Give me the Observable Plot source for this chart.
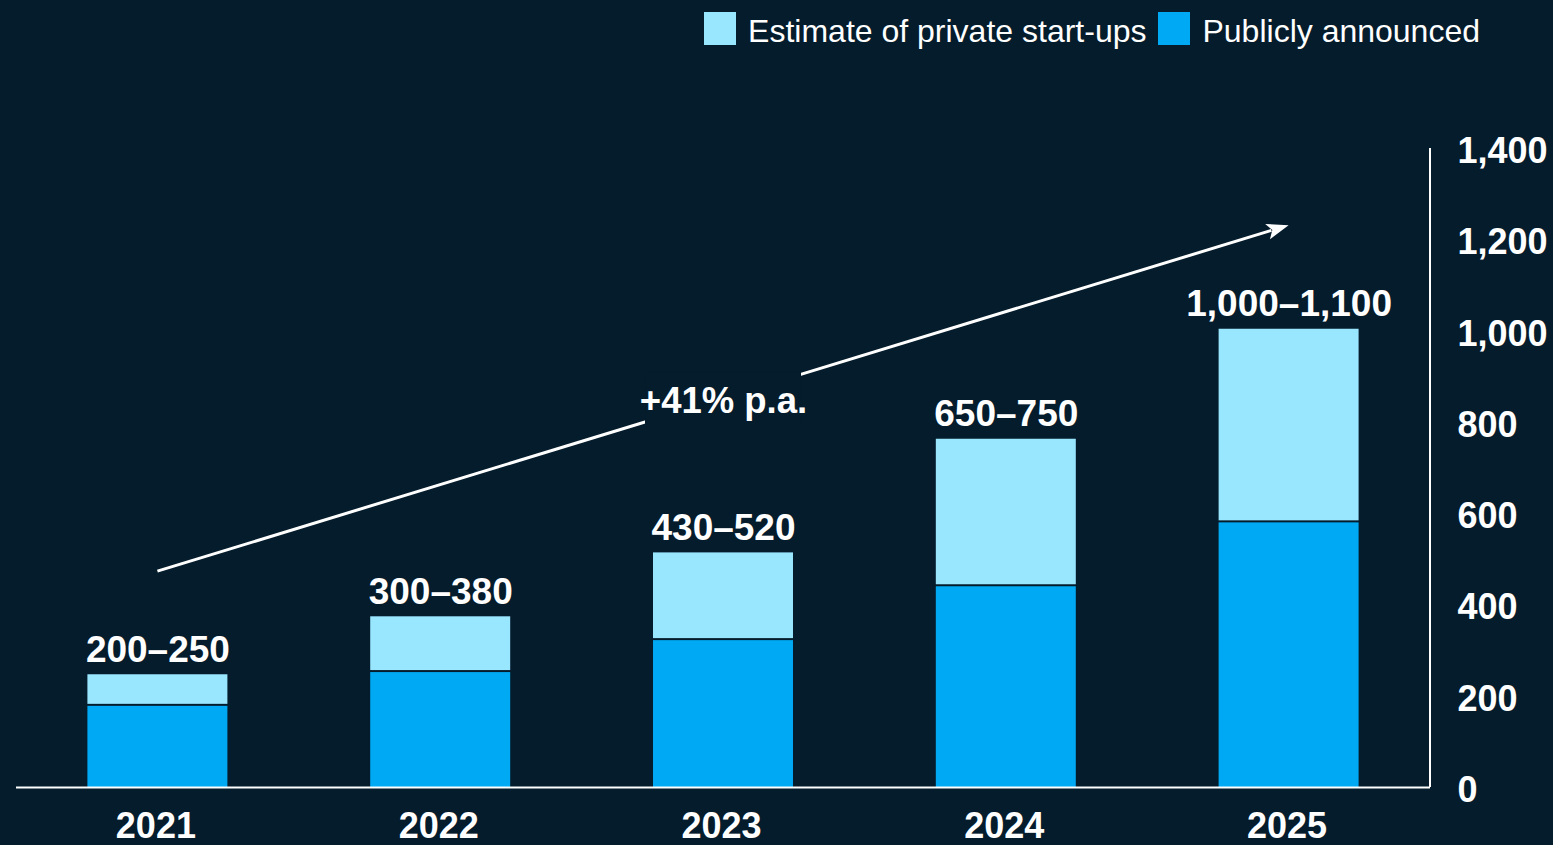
<!DOCTYPE html>
<html>
<head>
<meta charset="utf-8">
<script src="https://cdn.jsdelivr.net/npm/d3@7"></script>
<script src="https://cdn.jsdelivr.net/npm/@observablehq/plot@0.6"></script>
<style>
  html, body { margin: 0; padding: 0; background: #051c2c; overflow: hidden; }
  body { width: 1553px; height: 845px; font-family: "Liberation Sans", Arial, sans-serif; }
  #legend { height: 56px; display: flex; justify-content: flex-end; align-items: center; padding-right: 73px; box-sizing: border-box; color: #fff; font-size: 32px; }
  #legend .item { display: flex; align-items: center; margin-left: 12px; }
  #legend .sw { width: 32px; height: 33px; margin-right: 12px; }
  #legend .lbl { line-height: 32px; position: relative; top: 3px; }
  #chart svg { display: block; }
</style>
</head>
<body>
<div id="legend"></div>
<div id="chart"></div>
<script>
// ---- data ----
const years = ["2021", "2022", "2023", "2024", "2025"];
const publicAnnounced = [180, 254, 324, 442, 582];
const privateEstimate = [67, 120, 190, 321, 422];
const rangeLabels = ["200–250", "300–380", "430–520", "650–750", "1,000–1,100"];
const yTicks = [0, 200, 400, 600, 800, 1000, 1200, 1400];
const seriesNames = ["Estimate of private start-ups", "Publicly announced"];
const seriesColors = ["#99e6ff", "#00a9f4"];
const growthLabel = "+41% p.a.";
const growthYear = "2023";
const growthValue = 846;
const arrowFrom = {year: "2021", value: 473};
const arrowTo = {year: "2025", value: 1231};

const bg = "#051c2c";

// legend
const legend = document.getElementById("legend");
seriesNames.forEach((n, i) => {
  const it = document.createElement("div");
  it.className = "item";
  it.innerHTML = `<div class="sw" style="background:${seriesColors[i]}"></div><div class="lbl">${n}</div>`;
  legend.appendChild(it);
});

const pubRows = years.map((y, i) => ({year: y, y1: 0, y2: publicAnnounced[i], series: seriesNames[1]}));
const privRows = years.map((y, i) => ({year: y, y1: publicAnnounced[i], y2: publicAnnounced[i] + privateEstimate[i], series: seriesNames[0]}));
const labelRows = years.map((y, i) => ({year: y, total: publicAnnounced[i] + privateEstimate[i], label: rangeLabels[i]}));

const font = "'Liberation Sans', Arial, sans-serif";

const axisLineY = (index, scales, values, dims) => {
  const xr = dims.width - dims.marginRight;
  return d3.create("svg:line")
    .attr("x1", xr).attr("x2", xr)
    .attr("y1", scales.y(0)).attr("y2", scales.y(yTicks[yTicks.length - 1]))
    .attr("stroke", "white").attr("stroke-width", 2)
    .node();
};

// growth arrow drawn through the plot's own scales, with a filled head
const growthArrow = (index, scales) => {
  const half = scales.x.bandwidth ? scales.x.bandwidth() / 2 : 0;
  const x1 = scales.x(arrowFrom.year) + half, y1 = scales.y(arrowFrom.value);
  const x2 = scales.x(arrowTo.year) + half, y2 = scales.y(arrowTo.value);
  const ang = Math.atan2(y2 - y1, x2 - x1);
  const L = 22, W = 8;
  const bx = x2 - L * Math.cos(ang), by = y2 - L * Math.sin(ang);
  const px = -Math.sin(ang) * W, py = Math.cos(ang) * W;
  const g = d3.create("svg:g");
  g.append("line").attr("x1", x1).attr("y1", y1).attr("x2", bx + 4 * Math.cos(ang)).attr("y2", by + 4 * Math.sin(ang))
    .attr("stroke", "white").attr("stroke-width", 3);
  g.append("polygon").attr("points", `${x2},${y2} ${bx + px},${by + py} ${bx + 5 * Math.cos(ang)},${by + 5 * Math.sin(ang)} ${bx - px},${by - py}`)
    .attr("fill", "white");
  return g.node();
};

const chart = Plot.plot({
  width: 1553,
  height: 789,
  marginTop: 92,
  marginBottom: 58,
  marginLeft: 16,
  marginRight: 123,
  style: {background: "transparent", color: "white", fontFamily: font, overflow: "visible"},
  x: {domain: years, paddingInner: 0.505, paddingOuter: 0.2525, round: false, axis: null},
  y: {domain: [0, 1400], axis: null},
  color: {domain: seriesNames, range: seriesColors},
  marks: [
    Plot.barY(pubRows, {x: "year", y1: "y1", y2: "y2", fill: "series", insetTop: 1}),
    Plot.barY(privRows, {x: "year", y1: "y1", y2: "y2", fill: "series", insetBottom: 1}),
    growthArrow,
    Plot.barY([{}], {x: () => growthYear, y1: () => growthValue - 51, y2: () => growthValue + 63, fill: bg, insetLeft: -8, insetRight: -8}),
    Plot.text([growthLabel], {x: () => growthYear, y: () => growthValue, text: d => d, fill: "white", fontSize: 36.5, fontWeight: "bold", lineAnchor: "middle"}),
    Plot.text(labelRows, {x: "year", y: "total", text: "label", fill: "white", fontSize: 37, fontWeight: "bold", lineAnchor: "bottom", dy: -13}),
    Plot.ruleY([0], {stroke: "white", strokeWidth: 2}),
    axisLineY,
    Plot.axisX({tickSize: 0, tickPadding: 25, fontSize: 36, fontWeight: "bold", label: null, color: "white", dx: -2}),
    Plot.axisY({anchor: "right", ticks: yTicks, tickSize: 0, tickPadding: 27, fontSize: 36, fontWeight: "bold", tickFormat: d3.format(","), label: null, textAnchor: "start", dy: 3, color: "white"})
  ]
});
document.getElementById("chart").appendChild(chart);
</script>
</body>
</html>
